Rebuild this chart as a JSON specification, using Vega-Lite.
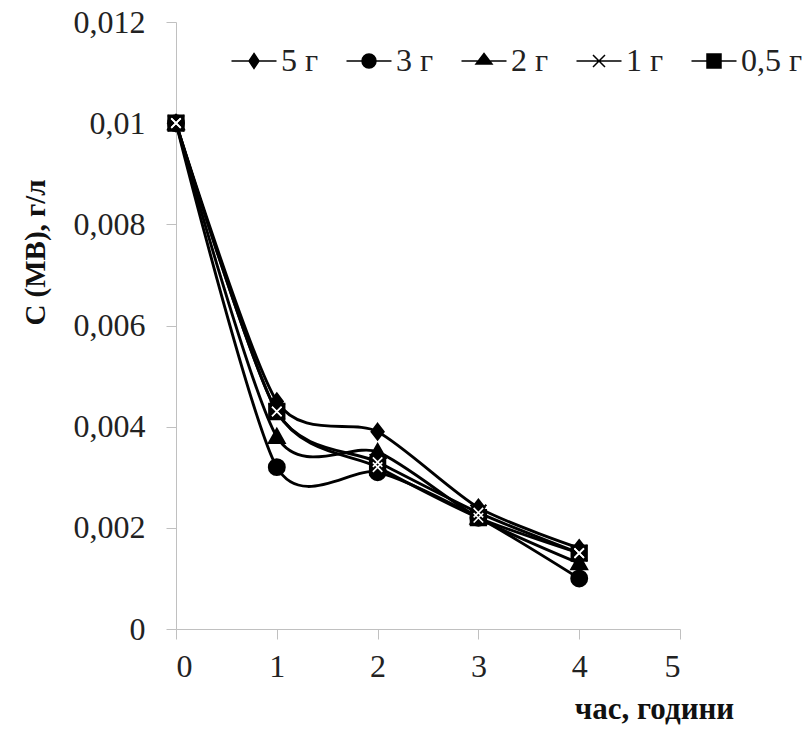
{
  "$schema": "https://vega.github.io/schema/vega-lite/v6.json",
  "width": 504,
  "height": 607,
  "autosize": "none",
  "padding": {"left": 176, "top": 22, "right": 130, "bottom": 102},
  "background": "white",
  "config": {
    "view": {"stroke": null},
    "axis": {
      "grid": false,
      "domainColor": "#c0c0c0",
      "tickColor": "#c0c0c0",
      "tickSize": 10,
      "labelFont": "Liberation Serif",
      "labelFontSize": 32,
      "labelColor": "#222",
      "titleFont": "Liberation Serif",
      "titleFontWeight": "bold",
      "titleColor": "#111"
    }
  },
  "data": {
    "values": [
      {"t": 0, "c": 0.01, "s": "5 г"},
      {"t": 1, "c": 0.0045, "s": "5 г"},
      {"t": 2, "c": 0.0039, "s": "5 г"},
      {"t": 3, "c": 0.0024, "s": "5 г"},
      {"t": 4, "c": 0.0016, "s": "5 г"},
      {"t": 0, "c": 0.01, "s": "3 г"},
      {"t": 1, "c": 0.0032, "s": "3 г"},
      {"t": 2, "c": 0.0031, "s": "3 г"},
      {"t": 3, "c": 0.0022, "s": "3 г"},
      {"t": 4, "c": 0.001, "s": "3 г"},
      {"t": 0, "c": 0.01, "s": "2 г"},
      {"t": 1, "c": 0.0038, "s": "2 г"},
      {"t": 2, "c": 0.0035, "s": "2 г"},
      {"t": 3, "c": 0.0022, "s": "2 г"},
      {"t": 4, "c": 0.0013, "s": "2 г"},
      {"t": 0, "c": 0.01, "s": "1 г"},
      {"t": 1, "c": 0.0043, "s": "1 г"},
      {"t": 2, "c": 0.0033, "s": "1 г"},
      {"t": 3, "c": 0.0023, "s": "1 г"},
      {"t": 4, "c": 0.0015, "s": "1 г"},
      {"t": 0, "c": 0.01, "s": "0,5 г"},
      {"t": 1, "c": 0.0043, "s": "0,5 г"},
      {"t": 2, "c": 0.0032, "s": "0,5 г"},
      {"t": 3, "c": 0.0022, "s": "0,5 г"},
      {"t": 4, "c": 0.0015, "s": "0,5 г"}
    ]
  },
  "encoding": {
    "x": {
      "field": "t", "type": "quantitative",
      "scale": {"domain": [0, 5]},
      "axis": {
        "values": [0, 1, 2, 3, 4, 5],
        "labelPadding": 12,
        "title": "час, години",
        "titleFontSize": 31,
        "titleX": 478, "titleY": 89,
        "titleAlign": "center", "titleBaseline": "alphabetic"
      }
    },
    "y": {
      "field": "c", "type": "quantitative",
      "scale": {"domain": [0, 0.012]},
      "axis": {
        "values": [0, 0.002, 0.004, 0.006, 0.008, 0.01, 0.012],
        "labelExpr": "replace(format(datum.value, '~g'), '.', ',')",
        "labelPadding": 21,
        "title": "C (MB), г/л",
        "titleFontSize": 29,
        "titleX": -141, "titleY": 230,
        "titleAlign": "center", "titleBaseline": "middle", "titleAngle": -90
      }
    }
  },
  "resolve": {"scale": {"shape": "independent"}, "legend": {"shape": "independent"}},
  "layer": [
    {
      "mark": {"type": "line", "interpolate": "cardinal", "tension": 0.25, "color": "black", "strokeWidth": 2.9},
      "encoding": {"detail": {"field": "s"}}
    },
    {
      "mark": {"type": "point", "filled": true, "opacity": 1, "size": 150, "fill": "black", "stroke": "black", "strokeWidth": 2},
      "encoding": {
        "shape": {
          "field": "s", "type": "nominal",
          "scale": {
            "domain": ["5 г", "3 г", "2 г", "1 г", "0,5 г"],
            "range": [
              "M0,-1.3L1,0L0,1.3L-1,0Z",
              "M-1.3,0A1.3,1.3,0,1,0,1.3,0A1.3,1.3,0,1,0,-1.3,0Z",
              "M0,-1.3L1.3,1L-1.3,1Z",
              "M-1.3,-1.3L1.3,1.3M-1.3,1.3L1.3,-1.3",
              "M-1.25,-1.25H1.25V1.25H-1.25Z"
            ]
          },
          "legend": null
        }
      }
    },
    {
      "transform": [{"filter": "datum.s === '1 г' || datum.s === '0,5 г'"}],
      "mark": {"type": "point", "shape": "M-1,-1L1,1M-1,1L1,-1", "filled": false, "opacity": 1, "size": 90, "stroke": "white", "strokeWidth": 1.6}
    },
    {
      "transform": [{"filter": "false"}],
      "mark": {"type": "point", "filled": true, "opacity": 1, "size": 100, "fill": "black", "stroke": "black", "strokeWidth": 3.2},
      "encoding": {
        "shape": {
          "field": "s", "type": "nominal",
          "scale": {
            "domain": ["5 г", "3 г", "2 г", "1 г", "0,5 г"],
            "range": [
              "M-4.5,0H4.5M0,-1.5L1,0L0,1.5L-1,0Z",
              "M-4.5,0H4.5M-1.4,0A1.4,1.4,0,1,0,1.4,0A1.4,1.4,0,1,0,-1.4,0Z",
              "M-4.5,0H4.5M0,-1.5L1.6,0.6L-1.6,0.6Z",
              "M-4.5,0H4.5M-1.2,-1.2L1.2,1.2M-1.2,1.2L1.2,-1.2",
              "M-4.5,0H4.5M-1.4,-1.4H1.4V1.4H-1.4Z"
            ]
          },
          "legend": {
            "orient": "none",
            "legendX": 62,
            "legendY": 23,
            "direction": "horizontal",
            "title": null,
            "symbolSize": 100,
            "symbolOpacity": 1,
            "labelFont": "Liberation Serif",
            "labelFontSize": 32,
            "labelColor": "#222",
            "labelOffset": 11,
            "columnPadding": 24,
            "encode": {
              "symbols": {
                "update": {
                  "fill": {"value": "black"},
                  "stroke": {"value": "black"},
                  "strokeWidth": {"value": 3.2},
                  "opacity": {"value": 1}
                }
              }
            }
          }
        }
      }
    }
  ]
}
